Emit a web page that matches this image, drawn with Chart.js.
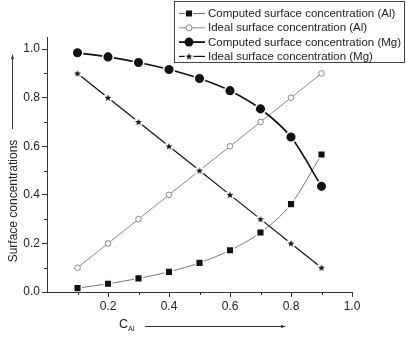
<!DOCTYPE html>
<html>
<head>
<meta charset="utf-8">
<script src="https://cdn.jsdelivr.net/npm/chart.js@4/dist/chart.umd.min.js"></script>
<style>
  html, body { margin: 0; padding: 0; background: #fff; }
  #wrap { width: 406px; height: 337px; }
</style>
</head>
<body>
<div id="wrap"><canvas id="chart" width="406" height="337"></canvas></div>
<script>
// x values (C_Al)
const cAl = [0.1, 0.2, 0.3, 0.4, 0.5, 0.6, 0.7, 0.8, 0.9];

// series
const computedAl = [0.016, 0.034, 0.056, 0.083, 0.12, 0.172, 0.245, 0.362, 0.566];
const idealAl    = [0.1, 0.2, 0.3, 0.4, 0.5, 0.6, 0.7, 0.8, 0.9];
const computedMg = [0.985, 0.968, 0.945, 0.916, 0.879, 0.829, 0.754, 0.638, 0.435];
const idealMg    = [0.9, 0.8, 0.7, 0.6, 0.5, 0.4, 0.3, 0.2, 0.1];

const legendLabels = [
    'Computed surface concentration (Al)',
    'Ideal surface concentration (Al)',
    'Computed surface concentration (Mg)',
    'Ideal surface concentration (Mg)'
];

// tick labels
const xMajor = [0.2, 0.4, 0.6, 0.8, 1.0];
const xMinor = [0.1, 0.3, 0.5, 0.7, 0.9];
const yMajor = [0.0, 0.2, 0.4, 0.6, 0.8, 1.0];
const yMinor = [0.1, 0.3, 0.5, 0.7, 0.9];

const FONT = '"Liberation Sans", Arial, sans-serif';

function starPath(ctx, cx, cy, r) {
    ctx.beginPath();
    for (let i = 0; i < 10; i++) {
        const rr = i % 2 === 0 ? r : r * 0.42;
        const a = -Math.PI / 2 + i * Math.PI / 5;
        const px = cx + rr * Math.cos(a), py = cy + rr * Math.sin(a);
        if (i === 0) ctx.moveTo(px, py); else ctx.lineTo(px, py);
    }
    ctx.closePath();
}

// small filled star (with a white halo, like the gaps in the original) used as point style
const starImg = document.createElement('canvas');
starImg.width = 10; starImg.height = 10;
(function () {
    const c = starImg.getContext('2d');
    c.fillStyle = '#fff';
    c.beginPath(); c.arc(5, 5, 4.5, 0, Math.PI * 2); c.fill();
    c.fillStyle = '#111';
    starPath(c, 5, 5.3, 3.6);
    c.fill();
})();

function pts(ys) {
    return cAl.map((x, i) => ({ x: x, y: ys[i] }));
}

function drawMarker(ctx, kind, x, y) {
    ctx.save();
    if (kind === 'rect') {
        ctx.fillStyle = '#fff';
        ctx.fillRect(x - 4, y - 4, 8, 8);
        ctx.fillStyle = '#111';
        ctx.fillRect(x - 3, y - 3, 6, 6);
    } else if (kind === 'open') {
        ctx.strokeStyle = '#888';
        ctx.fillStyle = '#fff';
        ctx.lineWidth = 1;
        ctx.beginPath(); ctx.arc(x, y, 3, 0, Math.PI * 2); ctx.fill(); ctx.stroke();
    } else if (kind === 'big') {
        ctx.fillStyle = '#111';
        ctx.beginPath(); ctx.arc(x, y, 4.5, 0, Math.PI * 2); ctx.fill();
    } else {
        ctx.drawImage(starImg, x - 5, y - 5);
    }
    ctx.restore();
}

const extras = {
    id: 'extras',
    afterDraw(chart) {
        const ctx = chart.ctx;
        const xs = chart.scales.x, ys = chart.scales.y;
        ctx.save();
        // minor ticks
        ctx.strokeStyle = '#333';
        ctx.lineWidth = 1;
        ctx.beginPath();
        xMinor.forEach(v => {
            const px = Math.round(xs.getPixelForValue(v)) + 0.5;
            ctx.moveTo(px, ys.bottom); ctx.lineTo(px, ys.bottom + 3);
        });
        yMinor.forEach(v => {
            const py = Math.round(ys.getPixelForValue(v)) + 0.5;
            ctx.moveTo(xs.left, py); ctx.lineTo(xs.left - 3, py);
        });
        ctx.stroke();

        // y title with arrow
        ctx.fillStyle = '#222';
        ctx.font = '12px ' + FONT;
        ctx.save();
        ctx.translate(17, 201);
        ctx.rotate(-Math.PI / 2);
        ctx.textAlign = 'center';
        ctx.textBaseline = 'alphabetic';
        ctx.fillText('Surface concentrations', 0, 0);
        ctx.restore();
        ctx.strokeStyle = '#333';
        ctx.beginPath();
        ctx.moveTo(12.5, 129); ctx.lineTo(12.5, 57);
        ctx.stroke();
        ctx.fillStyle = '#333';
        ctx.beginPath();
        ctx.moveTo(12.5, 54); ctx.lineTo(11, 59); ctx.lineTo(14, 59); ctx.closePath();
        ctx.fill();

        // x title with arrow
        ctx.fillStyle = '#222';
        ctx.font = '12.5px ' + FONT;
        ctx.textAlign = 'left';
        ctx.textBaseline = 'alphabetic';
        ctx.fillText('C', 119, 328);
        ctx.font = '7px ' + FONT;
        ctx.fillText('Al', 128, 331);
        ctx.strokeStyle = '#333';
        ctx.beginPath();
        ctx.moveTo(145, 326.5); ctx.lineTo(283, 326.5);
        ctx.stroke();
        ctx.fillStyle = '#333';
        ctx.beginPath();
        ctx.moveTo(286, 326.5); ctx.lineTo(281, 325); ctx.lineTo(281, 328); ctx.closePath();
        ctx.fill();

        // legend box
        ctx.fillStyle = '#fff';
        ctx.fillRect(174, 1, 230, 61);
        ctx.strokeStyle = '#444';
        ctx.lineWidth = 1;
        ctx.strokeRect(174.5, 1.5, 230, 61);
        const kinds = ['rect', 'open', 'big', 'star'];
        const lineCol = ['#777', '#888', '#111', '#111'];
        const lineW = [1, 1, 1.8, 1.2];
        for (let i = 0; i < 4; i++) {
            const cy = 13.5 + i * 14.3;
            ctx.strokeStyle = lineCol[i];
            ctx.lineWidth = lineW[i];
            ctx.beginPath();
            ctx.moveTo(179, cy); ctx.lineTo(205, cy);
            ctx.stroke();
            drawMarker(ctx, kinds[i], 189, cy);
            ctx.fillStyle = '#222';
            ctx.font = '11.5px ' + FONT;
            ctx.textAlign = 'left';
            ctx.textBaseline = 'middle';
            ctx.fillText(legendLabels[i], 208, cy + 0.5);
        }
        ctx.restore();
    }
};

new Chart(document.getElementById('chart'), {
    type: 'line',
    data: {
        datasets: [
            {
                label: legendLabels[2],
                data: pts(computedMg),
                borderColor: '#111',
                borderWidth: 1.7,
                pointStyle: 'circle',
                pointRadius: 5.3,
                pointBackgroundColor: '#111',
                pointBorderColor: '#fff',
                pointBorderWidth: 1.5,
                cubicInterpolationMode: 'monotone'
            },
            {
                label: legendLabels[3],
                data: pts(idealMg),
                borderColor: '#111',
                borderWidth: 1.2,
                pointStyle: starImg,
                tension: 0
            },
            {
                label: legendLabels[0],
                data: pts(computedAl),
                borderColor: '#777',
                borderWidth: 1,
                pointStyle: 'rect',
                pointRadius: 5.4,
                pointBackgroundColor: '#111',
                pointBorderColor: '#fff',
                pointBorderWidth: 1.5,
                cubicInterpolationMode: 'monotone'
            },
            {
                label: legendLabels[1],
                data: pts(idealAl),
                borderColor: '#888',
                borderWidth: 1,
                pointStyle: 'circle',
                pointRadius: 2.8,
                pointBackgroundColor: '#fff',
                pointBorderColor: '#888',
                pointBorderWidth: 1,
                tension: 0
            }
        ]
    },
    options: {
        responsive: false,
        animation: false,
        layout: { padding: { left: 0, right: 54, top: 37, bottom: 0 } },
        plugins: {
            legend: { display: false },
            tooltip: { enabled: false }
        },
        scales: {
            x: {
                type: 'linear',
                min: 0,
                max: 1.0,
                afterFit: s => { s.height = 45; },
                afterBuildTicks: s => { s.ticks = xMajor.map(v => ({ value: v })); },
                grid: { display: true, drawOnChartArea: false, tickLength: 5, tickColor: '#333' },
                border: { color: '#333', width: 1 },
                ticks: {
                    color: '#222',
                    padding: 2,
                    maxRotation: 0,
                    font: { family: FONT, size: 12 },
                    callback: v => v.toFixed(1)
                }
            },
            y: {
                type: 'linear',
                min: 0,
                max: 1.05,
                afterFit: s => { s.width = 47; },
                afterBuildTicks: s => { s.ticks = yMajor.map(v => ({ value: v })); },
                grid: { display: true, drawOnChartArea: false, tickLength: 5, tickColor: '#333' },
                border: { color: '#333', width: 1 },
                ticks: {
                    color: '#222',
                    padding: 2,
                    font: { family: FONT, size: 12 },
                    callback: v => v.toFixed(1)
                }
            }
        }
    },
    plugins: [extras]
});
</script>
</body>
</html>
